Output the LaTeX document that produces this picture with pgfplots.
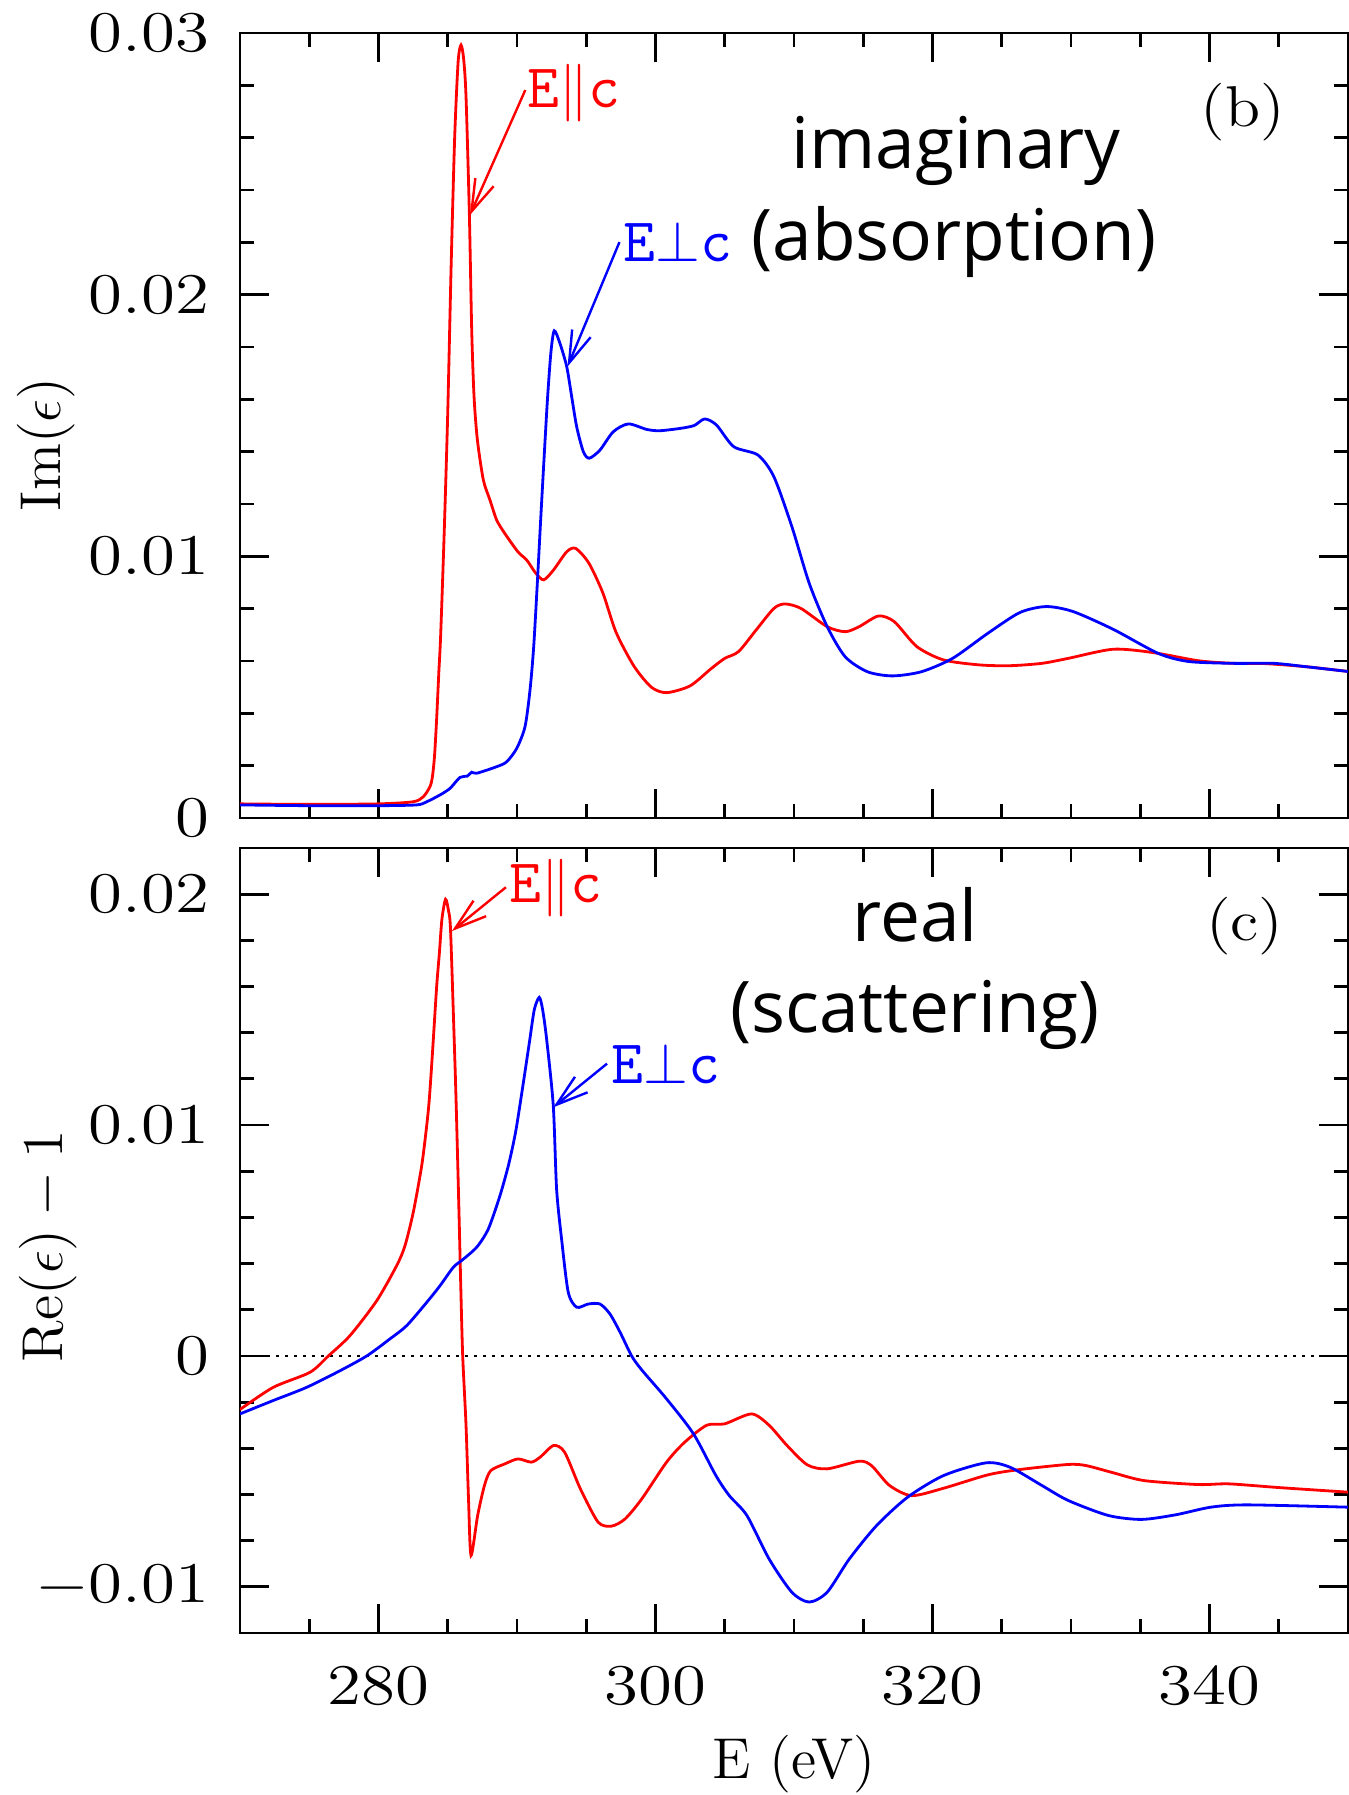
\documentclass[border=0pt]{standalone}
\usepackage{fontspec}
\usepackage{pgfplots}
\pgfplotsset{compat=1.18}
\usetikzlibrary{arrows.meta}
\newfontfamily\gill{Open Sans}
\newcommand{\tfont}{\fontsize{14.4}{17}\selectfont}
\newcommand{\afont}{\fontsize{15.5}{18}\selectfont}
\newcommand{\sfont}{\gill\fontsize{17.8}{21}\selectfont}
\newcommand{\tl}[1]{\scalebox{1.2}[1]{$#1$}}

\pgfplotstableread{
x y
270 0.00054
275 0.00052
280 0.00054
282.5 0.00062
283.23 0.00081
283.72 0.0012
283.9 0.0016
284.05 0.0024
284.2 0.0038
284.35 0.0055
284.49 0.0070
284.75 0.0110
285.0 0.0155
285.25 0.0212
285.5 0.0260
285.75 0.0289
285.96 0.02954
286.15 0.0290
286.32 0.02757
286.56 0.02311
286.73 0.01865
286.9 0.0161
287.14 0.01445
287.57 0.01292
288.05 0.01215
288.53 0.01139
289.1 0.01089
290.07 0.01017
290.7 0.00986
291.35 0.00936
291.93 0.0091
292.64 0.00948
293.6 0.01018
294.25 0.0103
295.2 0.00973
296.2 0.0086
297.15 0.0071
298.45 0.0058
299.7 0.0050
300.8 0.00479
302.5 0.00505
304.0 0.0057
305.0 0.0061
306.0 0.00636
307.26 0.00718
308.55 0.00801
309.35 0.00818
310.5 0.00801
312.4 0.00731
313.7 0.00712
314.7 0.00731
316.1 0.00772
317.25 0.0075
318.87 0.00655
320.8 0.00604
323.4 0.00585
325.6 0.00582
327.9 0.00591
329.8 0.0061
333.05 0.00645
335.95 0.00632
339.2 0.00601
341.75 0.00591
344 0.0059
347 0.00578
350 0.0056
}\imred

\pgfplotstableread{
x y
270 0.00050
275 0.00047
280 0.00047
282.75 0.0005
283.48 0.00062
284.44 0.00088
285.16 0.00113
285.88 0.00155
286.41 0.0016
286.73 0.00175
287.09 0.00171
288.53 0.00196
289.26 0.00215
289.98 0.00266
290.58 0.00349
290.94 0.00489
291.2 0.0065
291.45 0.0088
291.7 0.0113
291.95 0.0137
292.2 0.0160
292.45 0.0178
292.69 0.01862
293.1 0.01814
293.59 0.01725
293.95 0.0161
294.31 0.01495
294.79 0.014
295.22 0.01375
295.99 0.01406
296.95 0.01476
298.04 0.01506
299.36 0.01485
300.3 0.0148
301.8 0.01489
302.8 0.0150
303.55 0.01525
304.4 0.01502
305.65 0.01419
307.4 0.01387
308.55 0.01304
309.85 0.01113
311.1 0.00897
312.4 0.00731
313.7 0.00616
315.3 0.00559
317.1 0.00543
319.2 0.00559
321.45 0.0061
324.0 0.00706
326.3 0.00785
328.2 0.00808
330.15 0.00789
333.05 0.00721
336.3 0.00629
338.5 0.00598
341.75 0.00591
344.65 0.00591
347 0.00578
350 0.0056
}\imblue

\pgfplotstableread{
x y
270 -0.00232
272.4 -0.00136
275.05 -0.00071
276.38 0
277.94 0.00088
279.87 0.00239
281.31 0.00391
281.91 0.00477
282.51 0.00622
283.12 0.00824
283.48 0.00997
283.67 0.01113
283.9 0.01315
284.2 0.0160
284.4 0.01748
284.58 0.01892
284.84 0.01978
285.05 0.0193
285.2 0.01848
285.45 0.0140
285.6 0.0111
285.8 0.0065
285.95 0.0028
286.08 0
286.32 -0.0030
286.5 -0.0062
286.68 -0.00864
287.16 -0.00691
287.65 -0.00561
288.1 -0.00497
289.1 -0.00468
290.07 -0.00446
291.03 -0.0046
291.66 -0.00439
292.64 -0.00388
293.44 -0.00417
294.58 -0.00576
295.86 -0.0072
296.83 -0.00737
297.8 -0.00706
299.0 -0.0062
300.8 -0.0046
302.1 -0.00374
303.7 -0.0030
305.0 -0.00294
306.94 -0.00251
308.2 -0.0030
309.5 -0.00388
310.97 -0.00472
312.4 -0.00489
314.7 -0.00456
315.6 -0.00475
316.9 -0.00561
318.5 -0.00605
320.8 -0.00573
324.0 -0.00515
326.3 -0.00492
329.8 -0.0047
331.1 -0.00475
333.05 -0.00506
335.3 -0.0054
339.2 -0.00557
341.4 -0.00554
345 -0.0057
350 -0.0059
}\rered

\pgfplotstableread{
x y
270 -0.00251
272.4 -0.00193
274.81 -0.00136
277.22 -0.00064
279.15 0
280.83 0.00074
282.03 0.00131
283.48 0.00232
284.44 0.00304
285.4 0.00384
286.0 0.00413
287.09 0.00471
287.93 0.0055
288.77 0.00694
289.4 0.0083
289.9 0.0097
290.4 0.0116
290.9 0.0136
291.25 0.0150
291.61 0.01553
291.85 0.0150
292.14 0.01372
292.62 0.01084
292.86 0.00723
293.22 0.00506
293.7 0.00276
294.31 0.00211
295.15 0.00225
295.99 0.00225
296.71 0.00182
297.44 0.00103
298.28 0
299.0 -0.0006
300.8 -0.00186
302.75 -0.00338
304.36 -0.00518
305.33 -0.00605
306.6 -0.00691
308.2 -0.00879
309.84 -0.01023
311.1 -0.01066
312.4 -0.01023
314.0 -0.00879
315.96 -0.00735
318.2 -0.00612
320.8 -0.00518
323.86 -0.00463
325.6 -0.00482
327.9 -0.00561
329.8 -0.00626
332.7 -0.00691
335.1 -0.00708
337.56 -0.00688
340.1 -0.00655
342.7 -0.00645
350 -0.00655
}\reblue

\pgfplotsset{
  common/.style={
    scale only axis, width=277pt, height=196.25pt,
    xmin=270, xmax=350,
    xtick={280,300,320,340},
    minor xtick={275,285,290,295,305,310,315,325,330,335,345},
    tick align=inside, tick pos=both,
    xticklabel pos=lower, yticklabel pos=left,
    major tick length=7.25pt, minor tick length=3.6pt,
    axis line style={line width=0.7pt},
    every tick/.style={black, line width=0.7pt},
    every minor tick/.style={black, line width=0.7pt},
    tick label style={font=\tfont},
    label style={font=\tfont},
    yticklabel style={inner sep=0pt, xshift=-7.5pt},
    xticklabel style={inner sep=0pt, yshift=-8.5pt},
    scaled ticks=false,
  },
  curve/.style={line width=0.7pt, smooth, tension=0.45},
}
\tikzset{ann/.style={line width=0.6pt, -{Straight Barb[length=8pt, width=5pt]}}}

\begin{document}
\begin{tikzpicture}
\useasboundingbox (-60pt,8.25pt) rectangle (277pt,-440.5pt);

\begin{axis}[common, at={(0pt,0pt)}, anchor=north west,
  ymin=0, ymax=0.03,
  ytick={0,0.01,0.02,0.03},
  yticklabels={\tl{0},\tl{0.01},\tl{0.02},\tl{0.03}},
  minor ytick={0.002,0.004,0.006,0.008,0.012,0.014,0.016,0.018,0.022,0.024,0.026,0.028},
  xticklabels={},
  ylabel={$\mathrm{Im}(\epsilon)$},
  ylabel style={at={(axis description cs:-0.175,0.476)}, anchor=center},
]
\addplot[red, curve] table {\imred};
\addplot[blue, curve] table {\imblue};
\node[red, anchor=base west, inner sep=0pt, font=\afont] at (axis cs:290.72,0.02717) {\texttt{E}$\|$\texttt{c}};
\draw[red, ann] (axis cs:290.6,0.02782) -- (axis cs:286.6,0.02304);
\node[blue, anchor=base west, inner sep=0pt, font=\afont] at (axis cs:297.65,0.02125) {\texttt{E}$\perp$\texttt{c}};
\draw[blue, ann] (axis cs:297.4,0.02201) -- (axis cs:293.65,0.01725);
\node[anchor=base, inner sep=0pt, font=\sfont] at (axis cs:321.7,0.02484) {imaginary};
\node[anchor=base, inner sep=0pt, font=\sfont] at (axis cs:321.55,0.02132) {(absorption)};
\node[anchor=center, inner sep=0pt, font=\tfont] at (axis cs:342.4,0.02698) {\scalebox{1.12}[1]{(b)}};
\end{axis}

\begin{axis}[common, at={(0pt,-203.75pt)}, anchor=north west,
  ymin=-0.012, ymax=0.022,
  ytick={-0.01,0,0.01,0.02},
  yticklabels={\tl{-0.01},\tl{0},\tl{0.01},\tl{0.02}},
  minor ytick={-0.008,-0.006,-0.004,-0.002,0.002,0.004,0.006,0.008,0.012,0.014,0.016,0.018},
  xticklabels={\tl{280},\tl{300},\tl{320},\tl{340}},
  ylabel={$\mathrm{Re}(\epsilon)-1$},
  ylabel style={at={(axis description cs:-0.173,0.4924)}, anchor=center},
  xlabel={E (eV)},
  xlabel style={at={(axis description cs:0.5,-0.1667)}, anchor=center},
]
\addplot[black, line width=0.7pt, dash pattern=on 0.7pt off 1.55pt] coordinates {(270,0) (350,0)};
\addplot[red, curve] table {\rered};
\addplot[blue, curve] table {\reblue};
\node[red, anchor=base west, inner sep=0pt, font=\afont] at (axis cs:289.42,0.01965) {\texttt{E}$\|$\texttt{c}};
\draw[red, ann] (axis cs:289.2,0.0203) -- (axis cs:285.3,0.0184);
\node[blue, anchor=base west, inner sep=0pt, font=\afont] at (axis cs:296.75,0.01180) {\texttt{E}$\perp$\texttt{c}};
\draw[blue, ann] (axis cs:296.5,0.01266) -- (axis cs:292.62,0.01077);
\node[anchor=base, inner sep=0pt, font=\sfont] at (axis cs:318.74,0.01797) {real};
\node[anchor=base, inner sep=0pt, font=\sfont] at (axis cs:318.74,0.01403) {(scattering)};
\node[anchor=center, inner sep=0pt, font=\tfont] at (axis cs:342.56,0.01861) {\scalebox{1.12}[1]{(c)}};
\end{axis}
\end{tikzpicture}
\end{document}
